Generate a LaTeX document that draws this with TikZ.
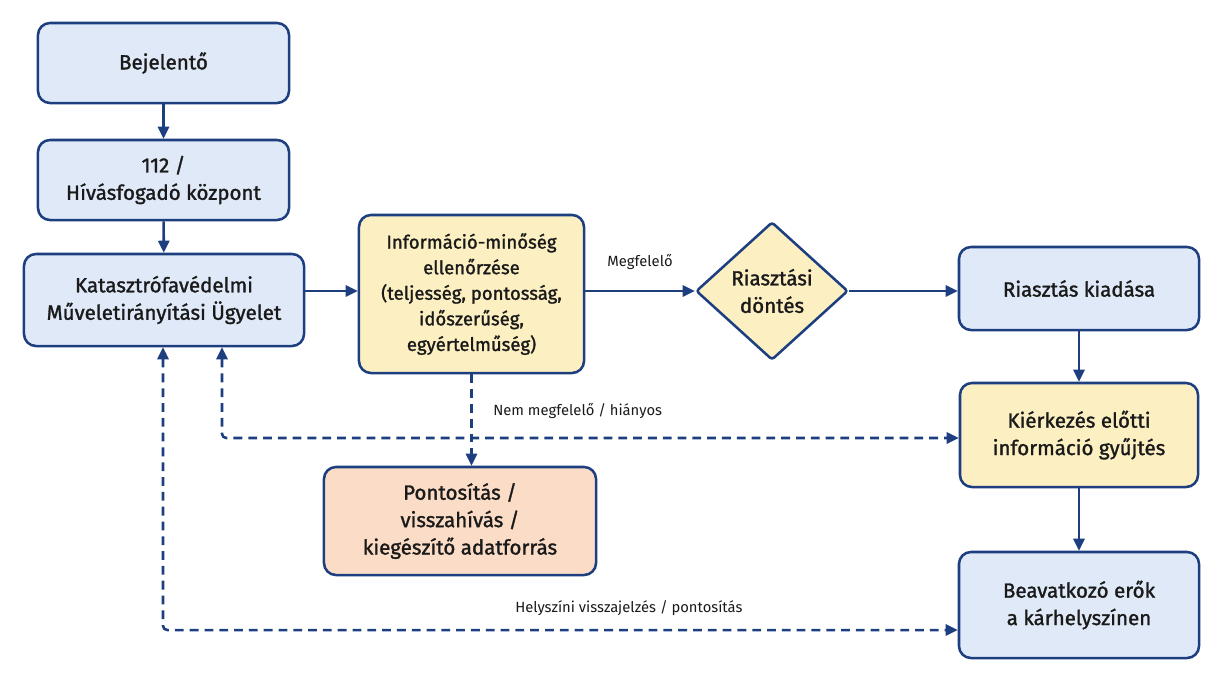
\documentclass[tikz,border=0pt]{standalone}
\usepackage{fontspec}
\setmainfont{Fira Sans}
\newfontfamily\boxfont{Fira Sans}[FakeBold=1.4]
\usetikzlibrary{arrows.meta,shapes.geometric,calc}
\definecolor{navy}{HTML}{1D3F80}
\definecolor{bluefill}{HTML}{DFE9F7}
\definecolor{yelfill}{HTML}{FCEFC2}
\definecolor{orfill}{HTML}{FBDCC6}
\definecolor{ink}{HTML}{1A1A1A}

\begin{document}
\begin{tikzpicture}[x=0.025cm,y=-0.025cm,
  box/.style={draw=navy,line width=1.8pt,rounded corners=0.3cm,align=center,text=ink,inner sep=0pt,font=\boxfont\fontsize{14.6}{19.5}\selectfont},
  bluebox/.style={box,fill=bluefill},
  yelbox/.style={box,fill=yelfill},
  orbox/.style={box,fill=orfill},
  dec/.style={box,fill=yelfill,shape=diamond,rounded corners=2pt},
  arr/.style={draw=navy,line width=1.8pt,-{Triangle[length=3mm,width=2.8mm]}},
  darr/.style={arr,dash pattern=on 2.2mm off 1.5mm},
  lbl/.style={text=ink,inner sep=0pt,font=\fontsize{10.5}{12}\selectfont}]
\useasboundingbox (0,0) rectangle (1220,687);
\node[bluebox,minimum width=6.275cm,minimum height=2cm] (bej) at (163.5,63) {Bejelentő};
\node[bluebox,minimum width=6.275cm,minimum height=2cm] (hivas) at (163.5,180) {112 /\\Hívásfogadó központ};
\node[bluebox,minimum width=7cm,minimum height=2.3cm] (kat) at (164,300) {Katasztrófavédelmi\\Műveletirányítási Ügyelet};
\node[yelbox,minimum width=5.625cm,minimum height=3.95cm,font=\boxfont\fontsize{13.2}{18.2}\selectfont] (info) at (471.5,294) {Információ-minőség\\ellenőrzése\\(teljesség, pontosság,\\időszerűség,\\egyértelműség)};
\node[dec,minimum width=3.8cm,minimum height=3.45cm] (dont) at (772,291) {Riasztási\\döntés};
\node[bluebox,minimum width=6cm,minimum height=2.075cm] (riaszt) at (1079,288.5) {Riasztás kiadása};
\node[yelbox,minimum width=5.95cm,minimum height=2.6cm] (kier) at (1079,435) {Kiérkezés előtti\\információ gyűjtés};
\node[bluebox,minimum width=6cm,minimum height=2.65cm] (beav) at (1079,605) {Beavatkozó erők\\a kárhelyszínen};
\node[orbox,minimum width=6.8cm,minimum height=2.7cm] (pont) at (460,521) {Pontosítás /\\visszahívás /\\kiegészítő adatforrás};
\coordinate (c1) at (222,438);
\coordinate (c2) at (163,630);
\coordinate (m) at (0,291);
\draw[arr] (bej) -- (hivas);
\draw[arr] (hivas) -- (kat);
\draw[arr] (kat.east |- m) -- (info.west |- m);
\draw[arr] (info.east |- m) -- node[lbl,above=14pt] (lok) {Megfelelő} (dont.west |- m);
\draw[arr] (dont.east |- m) -- (riaszt.west |- m);
\draw[arr] (riaszt) -- (kier);
\draw[arr] (kier) -- (beav);
\draw[darr] (info.south) -- (info.south |- pont.north);
\draw[darr,{Triangle[length=3mm,width=2.8mm]}-{Triangle[length=3mm,width=2.8mm]},rounded corners=3pt] (kat.south -| c1) -- (c1) -- (c1 -| kier.west);
\draw[darr,{Triangle[length=3mm,width=2.8mm]}-{Triangle[length=3mm,width=2.8mm]},rounded corners=3pt] (kat.south -| c2) -- (c2) -- (c2 -| beav.west);
\node[lbl,anchor=west] (lnem) at (493,411) {Nem megfelelő / hiányos};
\node[lbl,anchor=west] (lhely) at (515,608) {Helyszíni visszajelzés / pontosítás};
\end{tikzpicture}
\end{document}
